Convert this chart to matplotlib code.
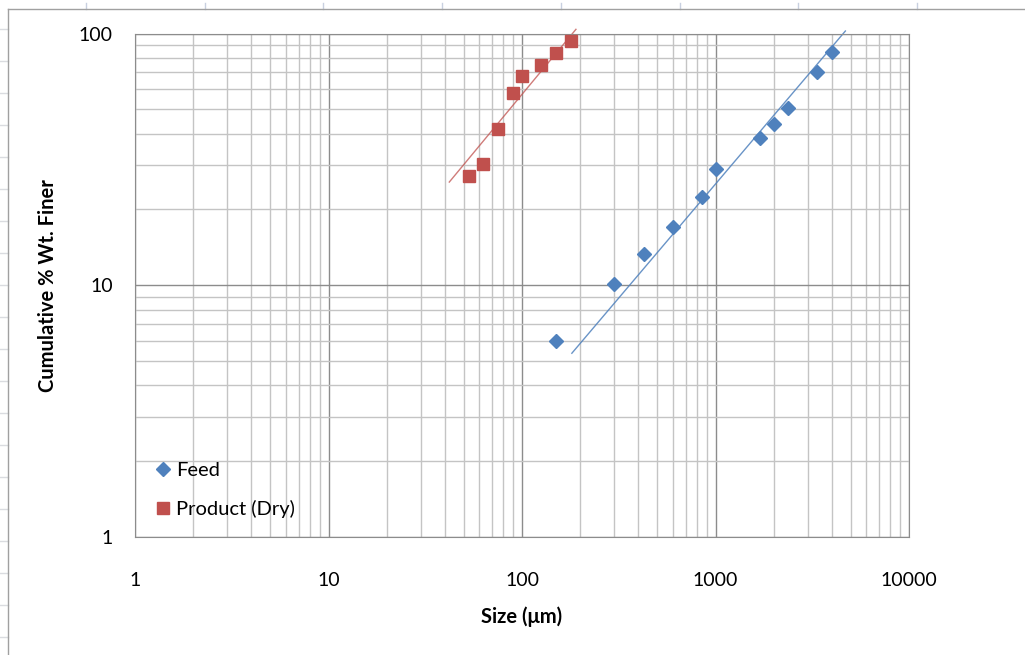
import matplotlib.pyplot as plt
from matplotlib.ticker import LogLocator, FixedFormatter, FixedLocator, NullFormatter
from matplotlib.lines import Line2D

# values
feed_size = [150, 300, 425, 600, 850, 1000, 1700, 2000, 2360, 3350, 4000]
feed_finer = [6.0, 10.1, 13.3, 17.0, 22.5, 28.9, 38.5, 43.8, 50.7, 70.1, 84.7]
product_size = [53, 63, 75, 90, 100, 125, 150, 180]
product_finer = [27.2, 30.3, 41.9, 57.9, 67.6, 74.8, 83.9, 93.6]

# power trendlines (end points)
feed_trend_x = [181, 4690]
feed_trend_y = [5.37, 102.3]
product_trend_x = [42.1, 190]
product_trend_y = [25.7, 103.9]

x_ticks = [1, 10, 100, 1000, 10000]
x_labels = ["1", "10", "100", "1000", "10000"]
y_ticks = [1, 10, 100]
y_labels = ["1", "10", "100"]

blue = "#4F81BD"
red = "#C0504D"
plt.rcParams["font.family"] = ["Lato", "DejaVu Sans"]

W, H = 1025, 655
fig = plt.figure(figsize=(W / 100, H / 100), dpi=100)

# spreadsheet behind the chart: frame and row / column marks
for yy in range(29, 655, 32):
    fig.add_artist(Line2D([0, 8 / W], [1 - yy / H] * 2, color="#dadce0", lw=1))
for xx in [86, 205, 323, 442, 561, 680, 798, 917]:
    fig.add_artist(Line2D([xx / W] * 2, [1 - 3 / H, 1 - 9 / H], color="#c8d0e0", lw=1))
fig.add_artist(Line2D([8 / W, 8 / W], [0, 1 - 9 / H], color="#a0a0a0", lw=1))
fig.add_artist(Line2D([8 / W, 1], [1 - 9 / H] * 2, color="#a0a0a0", lw=1))

ax = fig.add_axes([135 / W, 1 - 537 / H, 774 / W, 503.5 / H])
ax.set_xscale("log")
ax.set_yscale("log")
ax.set_xlim(1, 10000)
ax.set_ylim(1, 100)

ax.xaxis.set_major_locator(FixedLocator(x_ticks))
ax.xaxis.set_major_formatter(FixedFormatter(x_labels))
ax.yaxis.set_major_locator(FixedLocator(y_ticks))
ax.yaxis.set_major_formatter(FixedFormatter(y_labels))
for axis in (ax.xaxis, ax.yaxis):
    axis.set_minor_locator(LogLocator(base=10, subs=range(2, 10)))
    axis.set_minor_formatter(NullFormatter())

ax.grid(which="major", color="#8c8c8c", lw=1)
ax.grid(which="minor", color="#c4c4c4", lw=1)
ax.set_axisbelow(True)
for s in ax.spines.values():
    s.set_color("#8c8c8c")
ax.tick_params(which="both", length=0, labelsize=14, colors="#000000")
ax.tick_params(axis="x", pad=25)
ax.tick_params(axis="y", pad=16)

ax.plot(feed_trend_x, feed_trend_y, color=blue, lw=1, alpha=0.85, clip_on=False, zorder=2)
ax.plot(product_trend_x, product_trend_y, color=red, lw=1, alpha=0.75, clip_on=False, zorder=2)
ax.plot(feed_size, feed_finer, "D", ms=7.5, color=blue, mec=blue, clip_on=False,
        zorder=3, label="Feed")
ax.plot(product_size, product_finer, "s", ms=8.5, color=red, mec=red, clip_on=False,
        zorder=3, label="Product (Dry)")

ax.legend(loc="upper left", bbox_to_anchor=(0.0, 0.19), frameon=False, fontsize=14.5,
          labelspacing=1.05, handlelength=0.8, handletextpad=0.25, borderaxespad=0.6)

fig.text(48 / W, 1 - 286 / H, "Cumulative % Wt. Finer", rotation=90, ha="center",
         va="center", fontsize=14.5, fontweight="bold")
fig.text(522 / W, 1 - 617 / H, "Size (\u03bcm)", ha="center", va="center",
         fontsize=14.5, fontweight="bold")

fig.savefig("out.png", dpi=100)
